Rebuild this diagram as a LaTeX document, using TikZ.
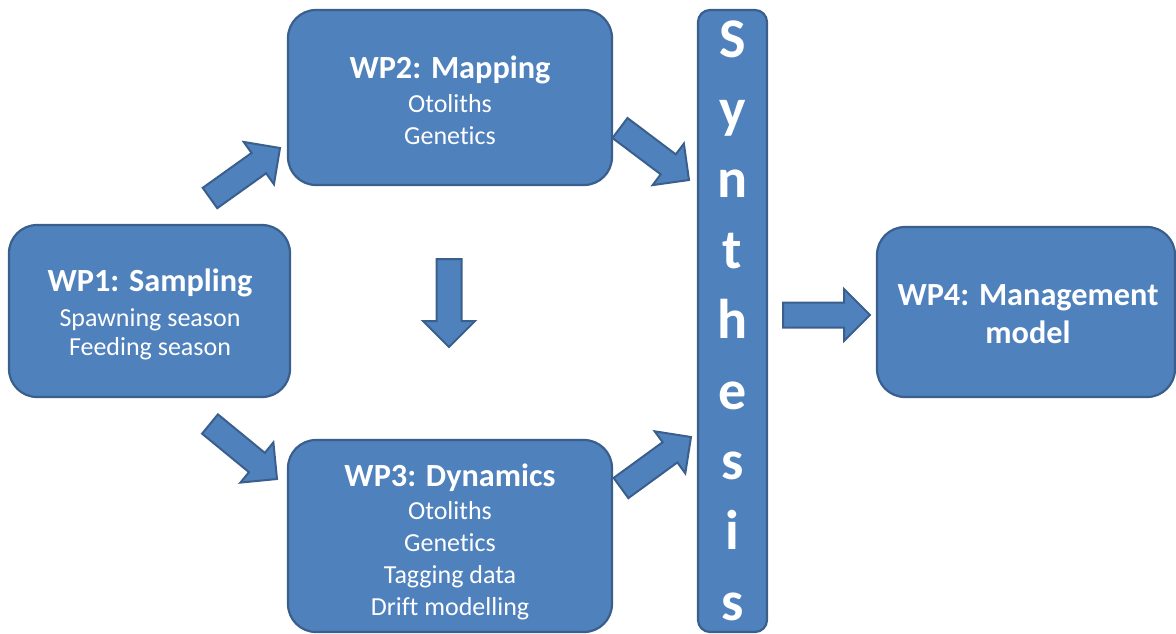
\documentclass[tikz,border=0pt]{standalone}
\usepackage{fontspec}
\setmainfont{Carlito}[Ligatures=NoCommon, RawFeature={-liga;-clig;-dlig}]
\usetikzlibrary{calc}
\definecolor{boxfill}{HTML}{4F81BD}
\definecolor{boxline}{HTML}{3A5F8C}
\tikzset{
  wpbox/.style={draw=boxline, fill=boxfill, line width=2.2pt, rounded corners=28pt, inner sep=0pt},
  synbox/.style={draw=boxline, fill=boxfill, line width=2.2pt, rounded corners=12pt, inner sep=0pt},
  wptext/.style={text=white, align=center, inner sep=0pt},
  fat/.style={draw=boxline, fill=boxfill, line width=2pt, line join=miter},
}
\newcommand\titlef{\fontsize{32.3}{38}\selectfont\bfseries}
\newcommand\bodyf[1]{\fontsize{26}{#1}\selectfont}
\newcommand\fatarrow[2]{%
  \coordinate (fah) at ($(#2)!26pt!(#1)$);
  \draw[fat] ($(#1)!12.5pt!90:(#2)$) -- ($(fah)!12.5pt!90:(#2)$) -- ($(fah)!26pt!90:(#2)$) -- (#2)
    -- ($(fah)!26pt!-90:(#2)$) -- ($(fah)!12.5pt!-90:(#2)$) -- ($(#1)!12.5pt!-90:(#2)$) -- cycle;}
\begin{document}
\begin{tikzpicture}[x=1pt, y=-1pt]
\useasboundingbox (0,0) rectangle (1176,633);
% boxes
\node[wpbox, minimum width=281pt, minimum height=172pt] (wp1) at (149.5,311) {};
\node[wpbox, minimum width=324pt, minimum height=175pt] (wp2) at (450,97.5) {};
\node[wpbox, minimum width=324pt, minimum height=192pt] (wp3) at (450,536) {};
\node[wpbox, minimum width=298pt, minimum height=170pt] (wp4) at (1026,312) {};
\node[synbox, minimum width=69pt, minimum height=622pt] (syn) at (732.5,321) {};
% texts
\node[wptext, font=\bodyf{29}] (wp1t) at (150,314) {{\titlef WP1: Sampling}\\[6pt]Spawning season\\Feeding season};
\node[wptext, font=\bodyf{32}] (wp2t) at (450,100.5) {{\titlef WP2: Mapping}\\[2pt]Otoliths\\Genet\kern0pt ics};
\node[wptext, font=\bodyf{32}] (wp3t) at (450,542) {{\titlef WP3: Dynamics}\\[1pt]Otoliths\\Genet\kern0pt ics\\Tagging data\\Drift modelling};
\node[wptext, font=\titlef] (wp4t) at (1028,314) {WP4: Management\\model};
\node[wptext, font={\fontsize{56}{70.4}\selectfont\bfseries}] (synt) at (732.5,320.5) {S\\y\\n\\t\\h\\e\\s\\i\\s};
% arrow end points
\coordinate (a12s) at (210,198); \coordinate (a12e) at (280,148);
\coordinate (a13s) at (210,424); \coordinate (a13e) at (277,479);
\coordinate (a23s) at (449,259); \coordinate (a23e) at (449,347);
\coordinate (a2Ss) at (620,128); \coordinate (a2Se) at (689,180);
\coordinate (a3Ss) at (621,488); \coordinate (a3Se) at (691,437);
\coordinate (aS4s) at (783,315); \coordinate (aS4e) at (870,315);
\fatarrow{a12s}{a12e}
\fatarrow{a13s}{a13e}
\fatarrow{a23s}{a23e}
\fatarrow{a2Ss}{a2Se}
\fatarrow{a3Ss}{a3Se}
\fatarrow{aS4s}{aS4e}
\end{tikzpicture}
\end{document}
